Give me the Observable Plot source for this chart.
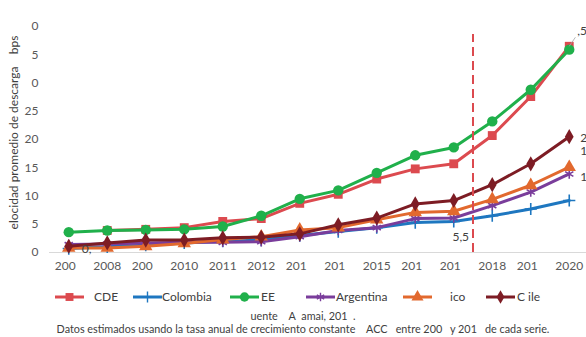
<!DOCTYPE html>
<html>
<head>
<meta charset="utf-8">
<script src="https://cdn.jsdelivr.net/npm/d3@7"></script>
<script src="https://cdn.jsdelivr.net/npm/@observablehq/plot@0.6"></script>
<style>
html, body { margin: 0; padding: 0; background: #fff; overflow: hidden; width: 586px; height: 337px; }
body { font-family: Lato, "Open Sans", sans-serif; color: #404040; position: relative; }
svg text { white-space: pre; }
#legend { position: absolute; left: 0; top: 287px; width: 586px; height: 20px; }
.item-sw { position: absolute; top: 3px; }
.item-tx { position: absolute; top: 2px; font-size: 12px; color: #404040; white-space: pre; }
.cap { position: absolute; left: 10px; width: 586px; text-align: center; font-size: 10.8px; color: #404040; white-space: pre; }
</style>
</head>
<body>
<div id="chart"></div>
<div id="legend"></div>
<div class="cap" style="top:309px">uente&#x2002;&#x2002;A&#x2002;amai, 201&#x2002;.</div>
<div class="cap" style="top:322px">Datos estimados usando la tasa anual de crecimiento constante&#x2002;&#x2002;ACC&#x2002; entre 200&#x2002; y 201&#x2002; de cada serie.</div>
<script>
const years = [2007, 2008, 2009, 2010, 2011, 2012, 2013, 2014, 2015, 2016, 2017, 2018, 2019, 2020];
const xLabels = ["200\u2007", "2008", "200\u2007", "2010", "2011", "2012", "201\u2007", "201\u2007", "2015", "201\u2007", "201\u2007", "2018", "201\u2007", "2020"];
const yTicks = [0, 5, 10, 15, 20, 25, 30, 35, 40];
const yLabels = ["0", "5", "10", "15", "20", "25", "0", "5", "0"];
const seriesNames = ["OCDE", "Colombia", "EE", "Argentina", "México", "Chile"];
const legendLabels = ["CDE", "Colombia", "EE", "Argentina", "ico", "C ile"];
const ocde      = [null, 3.9, 4.1, 4.4, 5.5, 6.0, 8.7, 10.3, 13.0, 14.8, 15.7, 20.7, 27.6, 36.5];
const colombia  = [0.7, 1.0, 1.3, 1.7, 2.0, 2.2, 3.0, 3.7, 4.4, 5.3, 5.5, 6.5, 7.7, 9.2];
const ee        = [3.6, 3.9, 4.0, 4.1, 4.6, 6.5, 9.5, 11.0, 14.1, 17.2, 18.6, 23.2, 28.8, 35.9];
const argentina = [1.4, 1.5, 1.7, 1.8, 1.8, 1.9, 2.8, 3.9, 4.4, 6.0, 6.1, 8.3, 10.7, 13.9];
const mexico    = [0.8, 0.8, 1.1, 1.6, 2.3, 2.8, 4.0, 4.4, 5.8, 7.1, 7.3, 9.4, 11.9, 15.1];
const chile     = [1.1, 1.7, 2.2, 2.2, 2.6, 2.7, 3.3, 4.9, 6.1, 8.6, 9.2, 12.0, 15.7, 20.5];
const yTitle = "elocidad promedio de descarga    bps";
const cutYear = 2017.5;

const values = [ocde, colombia, ee, argentina, mexico, chile];
const colors = ["#dc4a4f", "#1e77c0", "#20b04b", "#7a3d9b", "#e2692e", "#7d1c24"];
const symbols = ["square", "plus", "circle", "asterisk", "triangle", "diamond"];
const radii = [5, 4, 5.2, 4.5, 5, 4.6];
const strokeSym = [false, true, false, true, false, false];

const marks = [
  Plot.ruleY([0], {stroke: "#d9d9d9", strokeWidth: 1.2})
];
seriesNames.forEach((name, s) => {
  const rows = years.map((yr, i) => ({serie: name, year: yr, value: values[s][i]})).filter(d => d.value != null);
  marks.push(Plot.line(rows, {x: "year", y: "value", stroke: colors[s], strokeWidth: 3}));
  if (strokeSym[s]) {
    marks.push(Plot.dot(rows, {x: "year", y: "value", symbol: () => symbols[s], r: radii[s], stroke: colors[s], fill: "none", strokeWidth: 1.6}));
  } else {
    marks.push(Plot.dot(rows, {x: "year", y: "value", symbol: () => symbols[s], r: radii[s], fill: colors[s], stroke: "none"}));
  }
});
// dashed separator
marks.push(Plot.ruleX([cutYear], {y1: 0, y2: 38.6, stroke: "#dc4a4f", strokeWidth: 2, strokeDasharray: "9,5"}));
// data labels
const last = years.length - 1;
marks.push(Plot.link([{x: years[last], y: ocde[last]}], {x1: "x", y1: "y", x2: d => d.x + 0.16, y2: d => d.y + 1.6, stroke: "#a6a6a6", strokeWidth: 0.8}));
marks.push(Plot.text([{x: years[last], y: ocde[last]}], {x: "x", y: "y", text: () => ",5", dx: 8, dy: -15, textAnchor: "start", fontSize: 12, fill: "#404040"}));
marks.push(Plot.text([{x: years[last], y: chile[last]}], {x: "x", y: "y", text: () => "20,5", dx: 11, dy: 1, textAnchor: "start", fontSize: 12, fill: "#404040"}));
marks.push(Plot.text([{x: years[last], y: mexico[last]}], {x: "x", y: "y", text: () => "15,1", dx: 11, dy: -16, textAnchor: "start", fontSize: 12, fill: "#404040"}));
marks.push(Plot.text([{x: years[last], y: argentina[last]}], {x: "x", y: "y", text: () => "1", dx: 11, dy: 3, textAnchor: "start", fontSize: 12, fill: "#404040"}));
marks.push(Plot.text([{x: years[0], y: colombia[0]}], {x: "x", y: "y", text: () => "0,", dx: 13, dy: 1, textAnchor: "start", fontSize: 12, fill: "#404040"}));
marks.push(Plot.text([{x: years[10], y: colombia[10]}], {x: "x", y: "y", text: () => "5,5", dx: 7, dy: 16, textAnchor: "middle", fontSize: 12, fill: "#404040"}));
// axes
marks.push(Plot.axisX({ticks: years, tickFormat: d => xLabels[years.indexOf(d)], tickSize: 0, tickPadding: 9, fontSize: 12, fill: "#595959", label: null}));
marks.push(Plot.axisY({ticks: yTicks, tickFormat: d => yLabels[yTicks.indexOf(d)], tickSize: 0, tickPadding: 11, fontSize: 12, fill: "#595959", label: null}));
marks.push(Plot.text([yTitle], {frameAnchor: "left", text: d => d, rotate: -90, dx: -35, dy: -7, fontSize: 12, fill: "#404040", textAnchor: "middle"}));

const chart = Plot.plot({
  width: 586,
  height: 280,
  marginLeft: 49,
  marginRight: 0,
  marginTop: 26,
  marginBottom: 28,
  style: {fontFamily: "Lato, 'Open Sans', sans-serif", background: "#fff", overflow: "visible"},
  x: {domain: [2006.5, 2020.5], range: [49, 588]},
  y: {domain: [0, 40], range: [252, 26]},
  marks
});
document.getElementById("chart").appendChild(chart);

// legend
const legend = d3.select("#legend");
const swX = [55, 133, 230, 306, 403, 486];
const txX = [94, 162, 261, 336, 450, 517];
const symMap = {square: d3.symbolSquare, plus: d3.symbolPlus, circle: d3.symbolCircle, asterisk: d3.symbolAsterisk, triangle: d3.symbolTriangle, diamond: d3.symbolDiamond};
seriesNames.forEach((name, s) => {
  const svg = legend.append("svg").attr("class", "item-sw").attr("width", 30).attr("height", 14).style("left", swX[s] + "px");
  svg.append("line").attr("x1", 0).attr("x2", 29).attr("y1", 7).attr("y2", 7).attr("stroke", colors[s]).attr("stroke-width", 3);
  const p = svg.append("path").attr("transform", "translate(14.5,7)")
    .attr("d", d3.symbol(symMap[symbols[s]], Math.PI * radii[s] * radii[s] * 0.8)());
  if (strokeSym[s]) p.attr("fill", "none").attr("stroke", colors[s]).attr("stroke-width", 1.4);
  else p.attr("fill", colors[s]);
  legend.append("div").attr("class", "item-tx").style("left", txX[s] + "px").text(legendLabels[s]);
});
</script>
</body>
</html>
